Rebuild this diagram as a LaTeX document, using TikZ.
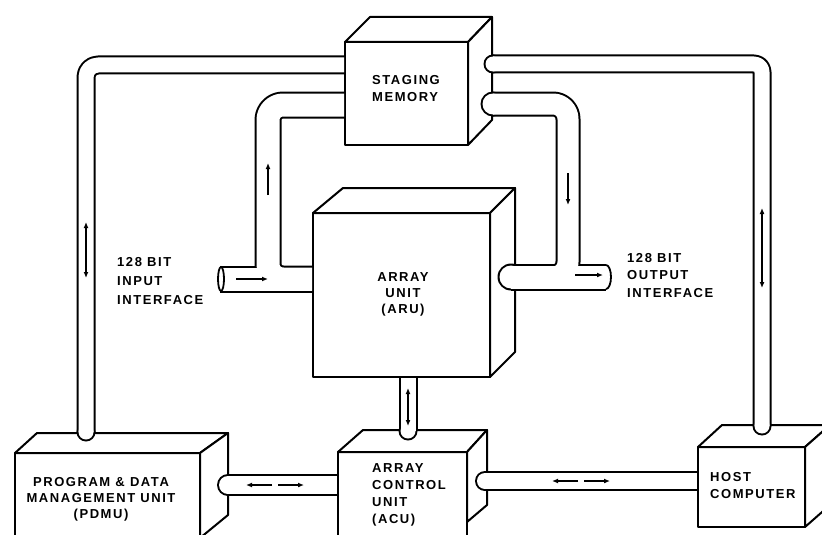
\documentclass[tikz,border=0pt]{standalone}
\usepackage{fontspec}
\newfontfamily\lettering{Liberation Sans}[LetterSpace=12]
\usetikzlibrary{arrows.meta}
\tikzset{
  face/.style={draw=black, fill=white, line width=2pt, line join=round},
  lbl/.style={font=\lettering\bfseries\fontsize{13}{17.5}\selectfont, inner sep=0pt, align=left, anchor=north west},
  flow/.style={line width=1.3pt, -{Latex[length=6pt,width=5pt]}},
  flowtwo/.style={line width=1.3pt, {Latex[length=6pt,width=5pt]}-{Latex[length=6pt,width=5pt]}},
  openend/.style={draw=black, line width=1.8pt},
}
% tubes: #1 = width reduction, #2 = colour (two passes give merged tubes)
\newcommand{\tubes}[2]{%
  \begin{scope}[#2, line cap=butt, line join=round]
    % P1 staging memory -> PDMU
    \draw[line width=19pt-#1, rounded corners=12pt] (344,65) -- (86,65) -- (86,432);
    \fill (86,432) circle ({(19pt-#1)/2});
    % P2 staging memory -> host
    \draw[line width=19pt-#1, rounded corners=8pt] (493,64) -- (762,64) -- (762,426);
    \fill (493,64) circle ({(19pt-#1)/2});
    \fill (762,426) circle ({(19pt-#1)/2});
    % P3 staging memory -> input interface / ARU
    \draw[line width=27pt-#1, rounded corners=15pt] (344,105) -- (268,105) -- (268,279) -- (312,279);
    % P4 input interface
    \draw[line width=27pt-#1] (220,279) -- (312,279);
    % P5 staging memory -> output
    \draw[line width=25pt-#1, rounded corners=15pt] (493,104) -- (568,104) -- (568,277) -- (520,277);
    \fill (493,104) circle ({(25pt-#1)/2});
    % P6 ARU -> output interface
    \draw[line width=27pt-#1] (511,277) -- (606,277);
    \fill (511,277) circle ({(27pt-#1)/2});
    % P7 ARU -> ACU
    \draw[line width=19pt-#1] (408,378) -- (408,431);
    \fill (408,431) circle ({(19pt-#1)/2});
    % P8 PDMU -> ACU
    \draw[line width=22pt-#1] (228,485) -- (337,485);
    \fill (228,485) circle ({(22pt-#1)/2});
    % P9 ACU -> host
    \draw[line width=20pt-#1] (485,481) -- (697,481);
    \fill (485,481) circle ({(20pt-#1)/2});
  \end{scope}}
\begin{document}
\begin{tikzpicture}[x=1pt, y=-1pt]
  \clip (0,0) rectangle (822,535);
  \fill[white] (0,0) rectangle (822,535);

  % Staging memory
  \draw[face] (345,42) rectangle (468,145);
  \draw[face] (345,42) -- (370,17) -- (492,17) -- (468,42) -- cycle;
  \draw[face] (468,42) -- (492,17) -- (492,120) -- (468,145) -- cycle;
  % Array unit
  \draw[face] (313,213) rectangle (490,377);
  \draw[face] (313,213) -- (343,188) -- (515,188) -- (490,213) -- cycle;
  \draw[face] (490,213) -- (515,188) -- (515,352) -- (490,377) -- cycle;
  % PDMU
  \draw[face] (15,453) rectangle (200,545);
  \draw[face] (15,453) -- (37,433) -- (228,433) -- (200,453) -- cycle;
  \draw[face] (200,453) -- (228,433) -- (228,515) -- (200,538) -- cycle;
  % ACU
  \draw[face] (338,452) rectangle (467,545);
  \draw[face] (338,452) -- (363,430) -- (487,430) -- (467,452) -- cycle;
  \draw[face] (467,452) -- (487,430) -- (487,505) -- (467,522) -- cycle;
  % Host computer
  \draw[face] (698,447) rectangle (805,527);
  \draw[face] (698,447) -- (722,425) -- (830,425) -- (805,447) -- cycle;
  \draw[face] (805,447) -- (830,425) -- (830,505) -- (805,527) -- cycle;

  % tubes
  \tubes{0pt}{black}
  \tubes{4pt}{white}

  % open ends of the interfaces
  \draw[openend, fill=white] (221,279) ellipse [x radius=3, y radius=12];
  \draw[openend] (606,265) arc [start angle=-90, end angle=90, x radius=5, y radius=12];

  % flow arrows
  \draw[flowtwo] (86,222) -- (86,278);
  \draw[flowtwo] (762,208) -- (762,288);
  \draw[flow] (268,195) -- (268,163);
  \draw[flow] (568,173) -- (568,205);
  \draw[flow] (236,279) -- (268,279);
  \draw[flow] (575,275) -- (603,275);
  \draw[flowtwo] (408,388) -- (408,426);
  \draw[flow] (272,485) -- (246,485);
  \draw[flow] (278,485) -- (304,485);
  \draw[flow] (578,481) -- (552,481);
  \draw[flow] (584,481) -- (610,481);

  % labels
  \node[lbl] (sm) at (372,75) {STAGING\\MEMORY};
  \node[lbl, anchor=north, align=center, font=\lettering\bfseries\fontsize{13}{16}\selectfont] (aru) at (403,272) {ARRAY\\UNIT\\(ARU)};
  \node[lbl, font=\lettering\bfseries\fontsize{13}{17}\selectfont] (acu) at (372,463) {ARRAY\\CONTROL\\UNIT\\(ACU)};
  \node[lbl, anchor=north, align=center, font=\lettering\bfseries\fontsize{13}{16}\selectfont] (pdmu) at (101,477) {PROGRAM \& DATA\\MANAGEMENT UNIT\\(PDMU)};
  \node[lbl] (host) at (710,472) {HOST\\COMPUTER};
  \node[lbl, font=\lettering\bfseries\fontsize{13}{19}\selectfont] (inif) at (117,257) {128 BIT\\INPUT\\INTERFACE};
  \node[lbl] (outif) at (627,253) {128 BIT\\OUTPUT\\INTERFACE};
\end{tikzpicture}
\end{document}
